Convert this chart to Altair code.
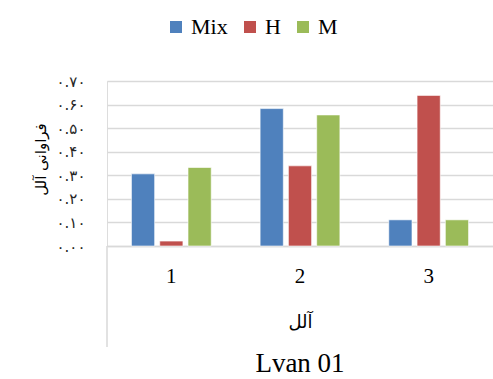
import altair as alt
import pandas as pd

# Allele frequencies per population
alleles = ["1", "2", "3"]
series = ["Mix", "H", "M"]
mix_vals = [0.306, 0.583, 0.111]
h_vals = [0.021, 0.340, 0.639]
m_vals = [0.333, 0.556, 0.111]
colors = ["#4F81BD", "#C0504D", "#9BBB59"]

y_ticks = [0.0, 0.1, 0.2, 0.3, 0.4, 0.5, 0.6, 0.7]
y_tick_labels = ["۰.۰۰", "۰.۱۰", "۰.۲۰", "۰.۳۰", "۰.۴۰", "۰.۵۰", "۰.۶۰", "۰.۷۰"]

rows = []
for name, vals in zip(series, [mix_vals, h_vals, m_vals]):
    for a, v in zip(alleles, vals):
        rows.append({"allele": a, "series": name, "value": v})
df = pd.DataFrame(rows)

label_array = "[" + ",".join("'" + s + "'" for s in y_tick_labels) + "]"

W, H = 386, 165

bars = alt.Chart(df).mark_bar(stroke="white", strokeWidth=0.6).encode(
    x=alt.X(
        "allele:N",
        sort=alleles,
        scale=alt.Scale(paddingInner=0.38, paddingOuter=0.19),
        axis=alt.Axis(
            title="آلل",
            titleFont="DejaVu Sans",
            titleFontSize=18,
            titleFontWeight="normal",
            titleColor="#000000",
            titleY=76,
            titleBaseline="middle",
            labelAngle=0,
            labelFont="Liberation Serif",
            labelFontSize=21,
            labelColor="#000000",
            labelPadding=19,
            ticks=False,
            domainColor="#d9d9d9",
            domainWidth=1.5,
        ),
    ),
    xOffset=alt.XOffset("series:N", sort=series,
                        scale=alt.Scale(domain=series, paddingInner=0.18)),
    y=alt.Y(
        "value:Q",
        scale=alt.Scale(domain=[0, 0.7]),
        axis=alt.Axis(
            title="فراوانی آلل",
            titleFont="DejaVu Sans",
            titleFontSize=15,
            titleFontWeight="normal",
            titleColor="#000000",
            titleX=-67,
            titleY=78,
            titleAngle=-90,
            titleBaseline="middle",
            values=y_ticks,
            labelExpr=label_array + "[round(datum.value*10)]",
            labelFont="DejaVu Sans",
            labelFontSize=15,
            labelColor="#262626",
            labelPadding=22,
            ticks=False,
            domain=False,
            gridColor="#d9d9d9",
            gridWidth=1.5,
        ),
    ),
    color=alt.Color(
        "series:N",
        sort=series,
        scale=alt.Scale(domain=series, range=colors),
        legend=alt.Legend(
            title=None,
            orient="none",
            direction="horizontal",
            legendX=58,
            legendY=-65,
            padding=0,
            symbolType="square",
            symbolSize=144,
            symbolStrokeWidth=0,
            symbolOpacity=1,
            labelFont="Liberation Serif",
            labelFontSize=22,
            labelColor="#000000",
            labelOffset=4,
            columnPadding=11,
        ),
    ),
)

# left boundary line of the category axis
edge = alt.Chart(pd.DataFrame({"k": [0]})).mark_rule(
    color="#d9d9d9", strokeWidth=1.5
).encode(x=alt.value(0), y=alt.value(H), y2=alt.value(H + 101))

chart = (
    alt.layer(bars, edge)
    .properties(
        width=W,
        height=H,
        title=alt.TitleParams(
            "Lvan 01",
            orient="bottom",
            font="Liberation Serif",
            fontSize=27,
            fontWeight="normal",
            color="#000000",
            offset=3,
        ),
        autosize=alt.AutoSizeParams(type="none"),
        padding={"left": 107, "top": 81, "right": 0, "bottom": 133},
    )
    .configure_view(stroke=None)
    .configure(background="white")
)

chart.save("out.html", embed_options={"renderer": "svg", "actions": False})
